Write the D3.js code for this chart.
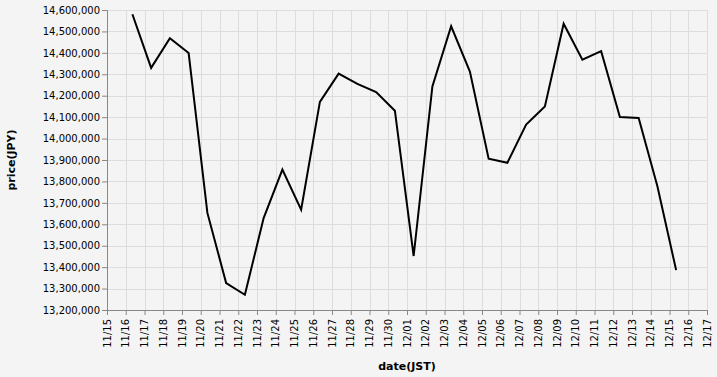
<!DOCTYPE html>
<html>
<head>
<meta charset="utf-8">
<script src="https://cdn.jsdelivr.net/npm/d3@7"></script>
<style>
  body { margin: 0; background: #f4f4f4; }
  svg { display: block; font-family: "DejaVu Sans", sans-serif; }
</style>
</head>
<body>
<svg id="chart" width="717" height="377"></svg>
<script>
// daily samples (JST)
var dates = ["11/16", "11/17", "11/18", "11/19", "11/20", "11/21", "11/22", "11/23",
  "11/24", "11/25", "11/26", "11/27", "11/28", "11/29", "11/30", "12/01", "12/02",
  "12/03", "12/04", "12/05", "12/06", "12/07", "12/08", "12/09", "12/10", "12/11",
  "12/12", "12/13", "12/14", "12/15"];
var prices = [14580000, 14330000, 14468000, 14399000, 13653000, 13326000, 13271000, 13629000,
  13855000, 13668000, 14171000, 14303000, 14255000, 14217000, 14130000, 13452000, 14243000,
  14524000, 14313000, 13906000, 13887000, 14065000, 14150000, 14536000, 14368000, 14408000,
  14101000, 14096000, 13777000, 13386000];
var sampleTime = "08:30";
var xTickLabels = ["11/15", "11/16", "11/17", "11/18", "11/19", "11/20", "11/21", "11/22",
  "11/23", "11/24", "11/25", "11/26", "11/27", "11/28", "11/29", "11/30", "12/01", "12/02",
  "12/03", "12/04", "12/05", "12/06", "12/07", "12/08", "12/09", "12/10", "12/11", "12/12",
  "12/13", "12/14", "12/15", "12/16", "12/17"];
var yTicks = [13200000, 13300000, 13400000, 13500000, 13600000, 13700000, 13800000,
  13900000, 14000000, 14100000, 14200000, 14300000, 14400000, 14500000, 14600000];

var margin = {top: 10, left: 107};
var width = 600, height = 300;

var parse = d3.timeParse("%Y/%m/%d %H:%M");
var fmt = d3.timeFormat("%m/%d");

var data = dates.map(function(d, i) {
  return {t: parse("2023/" + d + " " + sampleTime), v: prices[i]};
});
var tickDates = xTickLabels.map(function(d) { return parse("2023/" + d + " 00:00"); });

var svg = d3.select("#chart");
var g = svg.append("g")
    .attr("transform", "translate(" + margin.left + "," + margin.top + ")");

var x = d3.scaleTime()
    .domain([tickDates[0], tickDates[tickDates.length - 1]])
    .range([0, width]);
var y = d3.scaleLinear()
    .domain([yTicks[0], yTicks[yTicks.length - 1]])
    .range([height, 0]);

// grid
g.append("g").selectAll("line").data(tickDates).enter().append("line")
    .attr("x1", function(d) { return Math.round(x(d)) + 0.5; })
    .attr("x2", function(d) { return Math.round(x(d)) + 0.5; })
    .attr("y1", 0).attr("y2", height)
    .attr("stroke", "#ddd");
g.append("g").selectAll("line").data(yTicks).enter().append("line")
    .attr("y1", function(d) { return Math.round(y(d)) + 0.5; })
    .attr("y2", function(d) { return Math.round(y(d)) + 0.5; })
    .attr("x1", 0).attr("x2", width)
    .attr("stroke", "#ddd");

// axes
var xAxis = g.append("g")
    .attr("transform", "translate(0," + height + ")")
    .call(d3.axisBottom(x).tickValues(tickDates).tickFormat(fmt).tickSize(5).tickPadding(2));
xAxis.selectAll("text")
    .attr("transform", "rotate(-90)")
    .attr("text-anchor", "end")
    .attr("x", -9).attr("y", 0).attr("dy", "0.32em");

var yAxis = g.append("g")
    .call(d3.axisLeft(y).tickValues(yTicks).tickFormat(d3.format(",")).tickSize(5).tickPadding(2));

[xAxis, yAxis].forEach(function(a) {
  a.select(".domain").attr("stroke", "#888");
  a.selectAll(".tick line").attr("stroke", "#888");
  a.selectAll("text").attr("fill", "#000").style("font-size", "10px")
    .style("font-family", "DejaVu Sans, sans-serif");
});

// line
g.append("path")
    .datum(data)
    .attr("fill", "none")
    .attr("stroke", "#000")
    .attr("stroke-width", 2)
    .attr("d", d3.line().x(function(d) { return x(d.t); }).y(function(d) { return y(d.v); }));

// titles
svg.append("text")
    .attr("x", margin.left + width / 2).attr("y", 370)
    .attr("text-anchor", "middle")
    .style("font-size", "11px").style("font-weight", "bold")
    .text("date(JST)");
svg.append("text")
    .attr("transform", "translate(15," + (margin.top + height / 2) + ") rotate(-90)")
    .attr("text-anchor", "middle")
    .style("font-size", "11px").style("font-weight", "bold")
    .text("price(JPY)");
</script>
</body>
</html>
